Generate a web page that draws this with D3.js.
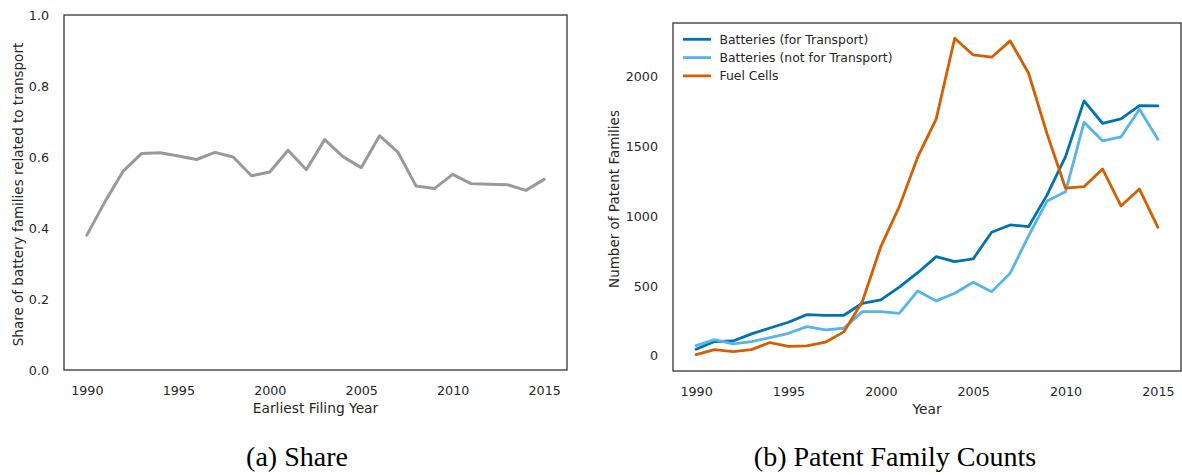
<!DOCTYPE html>
<head>
  <meta charset="utf-8">
  <script src="https://d3js.org/d3.v7.min.js"></script>
  <style>
    body { margin:0; background:#fff; }
    text { font-family: "DejaVu Sans", sans-serif; fill:#262626; }
    .tick text { font-size:12.7px; }
    .caption { font-family: "Liberation Serif", serif; font-size:28px; fill:#000; }
    .frame { fill:none; stroke:#333; stroke-width:1.3px; }
    .line { fill:none; stroke-linejoin:round; stroke-linecap:round; }
  </style>
</head>
<body>
<script>

  // years shared by both panels
  var years = d3.range(1990, 2016);

  // (a) share of battery families related to transport
  var share = [0.380, 0.475, 0.561, 0.610, 0.612, 0.603, 0.593, 0.613, 0.600, 0.547,
               0.558, 0.619, 0.564, 0.649, 0.601, 0.570, 0.660, 0.614, 0.518, 0.511,
               0.551, 0.525, 0.523, 0.522, 0.506, 0.537];

  // (b) patent family counts
  var battTransport = [48, 103, 107, 158, 200, 241, 296, 291, 291, 377,
                       401, 492, 596, 711, 675, 695, 886, 938, 926, 1153,
                       1427, 1826, 1666, 1697, 1792, 1790];
  var battOther = [74, 117, 86, 103, 131, 162, 210, 186, 198, 317,
                   317, 305, 465, 394, 449, 528, 460, 592, 860, 1110,
                   1175, 1673, 1540, 1568, 1767, 1552];
  var fuelCells = [10, 45, 31, 45, 96, 69, 72, 98, 172, 389,
                   783, 1069, 1425, 1697, 2275, 2155, 2139, 2256, 2024, 1590,
                   1201, 1212, 1339, 1074, 1195, 921];

  var seriesNames = ["Batteries (for Transport)", "Batteries (not for Transport)", "Fuel Cells"];
  var seriesColors = ["#0072B2", "#56B4E9", "#D55E00"];
  var xTicks = [1990, 1995, 2000, 2005, 2010, 2015];
  var shareTicks = [0, 0.2, 0.4, 0.6, 0.8, 1.0];
  var countTicks = [0, 500, 1000, 1500, 2000];

  var svg = d3.select("body").append("svg")
    .attr("width", 1182)
    .attr("height", 475);

  function panel(box, yDomain, yTicks, yFmt, xLabel, yLabel, yLabelX) {
    var g = svg.append("g").attr("transform", "translate(" + box.x + "," + box.y + ")");
    var x = d3.scaleLinear().domain([1988.75, 2016.25]).range([0, box.w]);
    var y = d3.scaleLinear().domain(yDomain).range([box.h, 0]);

    var xa = g.append("g")
      .attr("transform", "translate(0," + box.h + ")")
      .call(d3.axisBottom(x).tickValues(xTicks).tickFormat(d3.format("d")).tickSize(0).tickPadding(16));
    xa.select(".domain").remove();

    var ya = g.append("g")
      .call(d3.axisLeft(y).tickValues(yTicks).tickFormat(yFmt).tickSize(0).tickPadding(15));
    ya.select(".domain").remove();
    svg.selectAll(".tick text").attr("fill", "#262626").style("font-family", "DejaVu Sans");

    g.append("text")
      .attr("x", box.w / 2)
      .attr("y", box.h + 43)
      .attr("text-anchor", "middle")
      .attr("font-size", 13.8)
      .text(xLabel);

    g.append("text")
      .attr("transform", "translate(" + (yLabelX - box.x) + "," + (box.h / 2 + 2) + ") rotate(-90)")
      .attr("text-anchor", "middle")
      .attr("dy", "0.35em")
      .attr("font-size", 13.5)
      .text(yLabel);

    return {g: g, x: x, y: y};
  }

  // panel (a)
  var a = panel({x: 64, y: 15, w: 503, h: 355}, [0, 1], shareTicks, d3.format(".1f"),
                "Earliest Filing Year", "Share of battery families related to transport", 18);

  var lineA = d3.line()
    .x(function(d, i) { return a.x(years[i]); })
    .y(function(d) { return a.y(d); });

  a.g.append("path")
    .attr("class", "line")
    .attr("d", lineA(share))
    .attr("stroke", "#999999")
    .attr("stroke-width", 3);

  a.g.append("rect").attr("class", "frame").attr("width", 503).attr("height", 355);

  // panel (b)
  var b = panel({x: 673, y: 23, w: 508, h: 348}, [-108, 2384], countTicks, d3.format("d"),
                "Year", "Number of Patent Families", 614);

  var lineB = d3.line()
    .x(function(d, i) { return b.x(years[i]); })
    .y(function(d) { return b.y(d); });

  var allSeries = [battTransport, battOther, fuelCells];

  b.g.selectAll(".series").data(allSeries).enter()
    .append("path")
    .attr("class", "line series")
    .attr("d", function(d) { return lineB(d); })
    .attr("stroke", function(d, i) { return seriesColors[i]; })
    .attr("stroke-width", 2.8);

  b.g.append("rect").attr("class", "frame").attr("width", 508).attr("height", 348);

  // legend
  var legend = b.g.selectAll(".legend").data(seriesNames).enter()
    .append("g")
    .attr("class", "legend")
    .attr("transform", function(d, i) { return "translate(10," + (16.3 + i * 18.3) + ")"; });

  legend.append("line")
    .attr("x1", 0).attr("x2", 28)
    .attr("stroke", function(d, i) { return seriesColors[i]; })
    .attr("stroke-width", 2.8);

  legend.append("text")
    .attr("x", 36.5)
    .attr("dy", "0.35em")
    .attr("font-size", 12.4)
    .text(function(d) { return d; });

  // captions
  svg.append("text").attr("class", "caption")
    .attr("x", 297).attr("y", 466).attr("text-anchor", "middle")
    .text("(a) Share");

  svg.append("text").attr("class", "caption")
    .attr("x", 895).attr("y", 466).attr("text-anchor", "middle")
    .text("(b) Patent Family Counts");

</script>
</body>
